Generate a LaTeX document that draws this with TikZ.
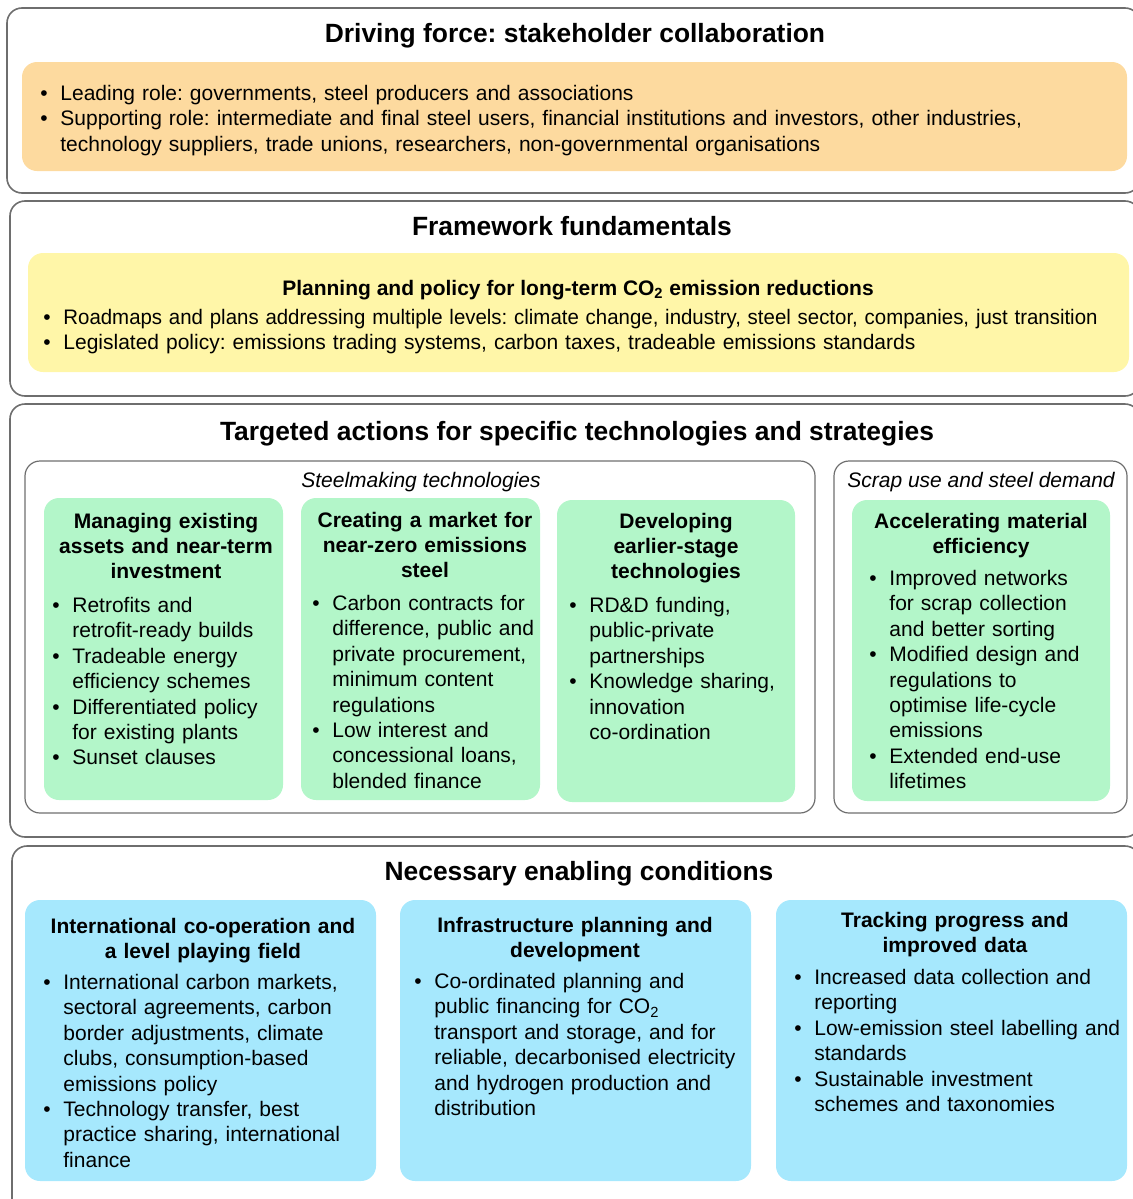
\documentclass[tikz,border=0pt]{standalone}
\usepackage{fontspec}
\setmainfont{Liberation Sans}
\frenchspacing
\usepackage{enumitem}
\setlist[itemize]{label=\textbullet, leftmargin=10pt, labelsep=6.3pt, nosep}
\usetikzlibrary{fit}
\definecolor{framegray}{HTML}{6E6E6E}
\definecolor{drivefill}{HTML}{FDDA9F}
\definecolor{planfill}{HTML}{FFF6A8}
\definecolor{techfill}{HTML}{B3F6C9}
\definecolor{enablefill}{HTML}{A6E8FD}

\begin{document}
\begin{tikzpicture}[
            x=0.5pt, y=-0.5pt,
            panel/.style={draw=framegray, line width=0.8pt, rounded corners=7.5pt, inner sep=0pt},
            groupbox/.style={draw=framegray, line width=0.6pt, rounded corners=7.5pt, inner sep=0pt},
            card/.style={rounded corners=7.5pt, inner sep=0pt},
            bandtitle/.style={font=\fontsize{13.2}{16}\selectfont\bfseries, anchor=base, inner sep=0pt},
            grouptag/.style={font=\fontsize{10.5}{12.7}\selectfont\itshape, anchor=base, inner sep=0pt},
            head/.style={font=\fontsize{10.5}{12.7}\selectfont\bfseries, align=center, anchor=base, inner sep=0pt},
            items/.style={font=\fontsize{10.5}{12.7}\selectfont\frenchspacing, align=left, anchor=base west, inner sep=0pt}
        ]
            \useasboundingbox (0,0) rectangle (1133,1199);
            \clip (0,0) rectangle (1133,1199);

            % driving force
            \node[panel, fit={(7,8) (1140,193)}] (drive) {};
            \node[bandtitle] (drivetitle) at (575,42) {Driving force: stakeholder collaboration};
            \node[card, fill=drivefill, fit={(22,62) (1127,171)}] (roles) {};
            \node[items, text width=560pt] (rolelist) at (40,75) {\begin{itemize}
                \item Leading role: governments, steel producers and associations
                \item Supporting role: intermediate and final steel users, financial institutions and investors, other industries,\\
                      technology suppliers, trade unions, researchers, non-governmental organisations
            \end{itemize}};

            % framework fundamentals
            \node[panel, fit={(10,201) (1140,396)}] (frame) {};
            \node[bandtitle] (frametitle) at (572,235) {Framework fundamentals};
            \node[card, fill=planfill, fit={(28,253) (1129,372)}] (plan) {};
            \node[head] (planhead) at (578,295) {Planning and policy for long-term CO\textsubscript{2} emission reductions};
            \node[items, text width=560pt] (planlist) at (43,299) {\begin{itemize}
                \item \scalebox{0.973}[1]{Roadmaps and plans addressing multiple levels: climate change, industry, steel sector, companies, just transition}
                \item Legislated policy: emissions trading systems, carbon taxes, tradeable emissions standards
            \end{itemize}};

            % targeted actions
            \node[panel, fit={(10,404) (1140,837)}] (target) {};
            \node[bandtitle] (targettitle) at (577,440) {Targeted actions for specific technologies and strategies};
            \node[groupbox, fit={(25,461) (815,813)}] (steel) {};
            \node[grouptag] (steeltag) at (421,487) {Steelmaking technologies};
            \node[groupbox, fit={(834,461) (1127,813)}] (scrap) {};
            \node[grouptag] (scraptag) at (981,487) {Scrap use and steel demand};

            \node[card, fill=techfill, fit={(44,498) (283,800)}] (manage) {};
            \node[head, text width=130pt] (managehead) at (166,528) {Managing existing\\assets and near-term\\investment};
            \node[items, text width=140pt] (managelist) at (52,587) {\begin{itemize}
                \item Retrofits and\\retrofit-ready builds
                \item Tradeable energy\\efficiency schemes
                \item Differentiated policy\\for existing plants
                \item Sunset clauses
            \end{itemize}};

            \node[card, fill=techfill, fit={(301,498) (540,800)}] (market) {};
            \node[head, text width=130pt] (markethead) at (425,527) {Creating a market for\\near-zero emissions\\steel};
            \node[items, text width=140pt] (marketlist) at (312,585) {\begin{itemize}
                \item Carbon contracts for\\difference, public and\\private procurement,\\minimum content\\regulations
                \item Low interest and\\concessional loans,\\blended finance
            \end{itemize}};

            \node[card, fill=techfill, fit={(557,500) (795,802)}] (develop) {};
            \node[head, text width=130pt] (develophead) at (676,528) {Developing\\earlier-stage\\technologies};
            \node[items, text width=140pt] (developlist) at (569,587) {\begin{itemize}
                \item RD\&D funding,\\public-private\\partnerships
                \item Knowledge sharing,\\innovation\\co-ordination
            \end{itemize}};

            \node[card, fill=techfill, fit={(852,500) (1110,801)}] (material) {};
            \node[head, text width=140pt] (materialhead) at (981,528) {Accelerating material\\efficiency};
            \node[items, text width=140pt] (materiallist) at (869,560) {\begin{itemize}
                \item Improved networks\\for scrap collection\\and better sorting
                \item Modified design and\\regulations to\\optimise life-cycle\\emissions
                \item Extended end-use\\lifetimes
            \end{itemize}};

            % enabling conditions
            \node[panel, fit={(12,846) (1140,1215)}] (enable) {};
            \node[bandtitle] (enabletitle) at (579,880) {Necessary enabling conditions};

            \node[card, fill=enablefill, fit={(25,900) (376,1181)}] (intl) {};
            \node[head, text width=180pt] (intlhead) at (203,933) {International co-operation and\\a level playing field};
            \node[items, text width=180pt] (intllist) at (43,964) {\begin{itemize}
                \item International carbon markets,\\sectoral agreements, carbon\\border adjustments, climate\\clubs, consumption-based\\emissions policy
                \item Technology transfer, best\\practice sharing, international\\finance
            \end{itemize}};

            \node[card, fill=enablefill, fit={(400,900) (751,1181)}] (infra) {};
            \node[head, text width=180pt] (infrahead) at (575,932) {Infrastructure planning and\\development};
            \node[items, text width=180pt] (infralist) at (414,963) {\begin{itemize}
                \item Co-ordinated planning and\\public financing for CO\textsubscript{2}\\transport and storage, and for\\reliable, decarbonised electricity\\and hydrogen production and\\distribution
            \end{itemize}};

            \node[card, fill=enablefill, fit={(776,900) (1127,1181)}] (track) {};
            \node[head, text width=180pt] (trackhead) at (955,927) {Tracking progress and\\improved data};
            \node[items, text width=180pt] (tracklist) at (794,959) {\begin{itemize}
                \item Increased data collection and\\reporting
                \item Low-emission steel labelling and\\standards
                \item Sustainable investment\\schemes and taxonomies
            \end{itemize}};
        \end{tikzpicture}
\end{document}
